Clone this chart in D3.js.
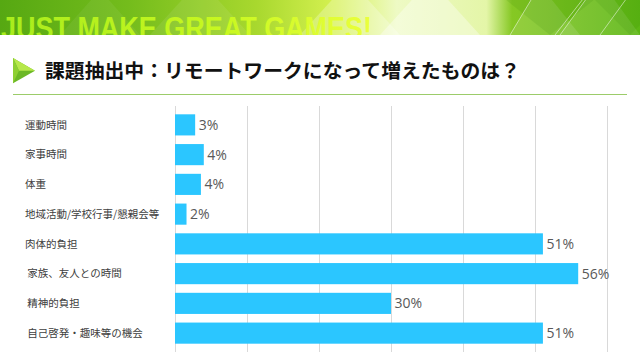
<!DOCTYPE html>
<html><head><meta charset="utf-8">
<script src="https://cdn.jsdelivr.net/npm/d3@7/dist/d3.min.js"></script>
<style>
html,body{margin:0;padding:0;background:#fff;}
svg{display:block;}
</style></head>
<body>
<script>
const bannerText = "JUST MAKE GREAT GAMES!";
const title = "課題抽出中：リモートワークになって増えたものは？";
const categories = ["運動時間","家事時間","体重","地域活動/学校行事/懇親会等","肉体的負担"," 家族、友人との時間"," 精神的負担"," 自己啓発・趣味等の機会"];
const values = [2.8, 4.0, 3.6, 1.6, 51.1, 56.0, 30.0, 51.1];
const xTicks = [0,10,20,30,40,50,60];

const W = 640, H = 360;
const svg = d3.select("body").append("svg").attr("width", W).attr("height", H);
const defs = svg.append("defs");

// banner gradient
const bg = defs.append("linearGradient").attr("id","bg").attr("x1","0").attr("x2","1").attr("y1","0").attr("y2","0");
[[0,"#56a812"],[0.2,"#74bc1c"],[0.4,"#a8d82e"],[0.52,"#d4f050"],[0.62,"#eefac4"],[0.76,"#e4f6a8"],[0.8,"#86c824"],[1,"#5cb614"]]
  .forEach(([o,c])=>bg.append("stop").attr("offset",o).attr("stop-color",c));
const tg = defs.append("linearGradient").attr("id","tg").attr("x1","0").attr("x2","1");
[[0,"#a8ec1c"],[0.6,"#c8f820"],[1,"#eaff3c"]].forEach(([o,c])=>tg.append("stop").attr("offset",o).attr("stop-color",c));
defs.append("clipPath").attr("id","bclip").append("rect").attr("width",W).attr("height",35);

const banner = svg.append("g").attr("clip-path","url(#bclip)");
banner.append("rect").attr("width",W).attr("height",35).attr("fill","url(#bg)");
// decorative triangles
const tri = [[ [60,35],[100,-10],[140,35],"rgba(255,255,255,0.06)"],[[150,35],[200,-20],[250,35],"rgba(255,255,255,0.08)"],
  [[380,35],[430,-20],[480,35],"rgba(255,255,255,0.35)"],[[300,35],[350,-20],[400,35],"rgba(255,255,255,0.25)"],
  [[510,35],[540,-15],[580,35],"rgba(255,255,255,0.12)"],[[560,35],[600,-20],[640,35],"rgba(255,255,255,0.1)"],
  [[500,-5],[550,35],[600,-5],"rgba(40,120,0,0.12)"],[[590,-5],[630,35],[670,-5],"rgba(40,120,0,0.1)"]];
tri.forEach(t=>banner.append("path").attr("d",`M${t[0]}L${t[1]}L${t[2]}Z`).attr("fill",t[3]));
[[510,35,540,-15],[560,35,600,-20],[555,35,590,-10],[600,35,640,-20]].forEach(l=>banner.append("line")
  .attr("x1",l[0]).attr("y1",l[1]).attr("x2",l[2]).attr("y2",l[3]).attr("stroke","rgba(255,255,255,0.5)").attr("stroke-width",1));
banner.append("text").attr("x",1).attr("y",39).attr("textLength",371).attr("lengthAdjust","spacingAndGlyphs")
  .attr("font-family","Liberation Sans, Arial, sans-serif").attr("font-weight","bold").attr("font-size",32)
  .attr("fill","url(#tg)").text(bannerText);

// title icon
svg.append("path").attr("d","M13,58L35,70.7L13,83.3Z").attr("fill","#6cb826");
svg.append("path").attr("d","M13,58L35,70.7L19,70.7Z").attr("fill","#b6e84a");
svg.append("path").attr("d","M13,58L19,70.7L13,83.3Z").attr("fill","#8ed032");
svg.append("text").attr("x",45).attr("y",77.5).attr("font-family","Noto Sans CJK JP, sans-serif").attr("font-weight","bold")
  .attr("font-size",19.5).attr("fill","#111").attr("textLength",475).attr("lengthAdjust","spacingAndGlyphs").text(title);
svg.append("line").attr("x1",13).attr("x2",627).attr("y1",94.5).attr("y2",94.5).attr("stroke","#9ccc6a").attr("stroke-width",1.2);

// chart
const x = d3.scaleLinear().domain([0,60]).range([175,607]);
const y = d3.scaleBand().domain(categories).range([110,348]).paddingInner(0.29).paddingOuter(0.145);

svg.append("g").selectAll("line").data(xTicks).join("line")
  .attr("x1",d=>x(d)+0.5).attr("x2",d=>x(d)+0.5).attr("y1",106).attr("y2",352)
  .attr("stroke","#d9d9d9").attr("stroke-width",1);

svg.append("g").selectAll("rect").data(values).join("rect")
  .attr("x",x(0)).attr("y",(d,i)=>y(categories[i])).attr("width",d=>x(d)-x(0)).attr("height",y.bandwidth())
  .attr("fill","#2bc6ff");

const fmt = d3.format(".0f");
svg.append("g").selectAll("text").data(values).join("text")
  .attr("x",d=>x(d)+3.5).attr("y",(d,i)=>y(categories[i])+y.bandwidth()/2).attr("dy","0.36em")
  .attr("font-family","Open Sans, Noto Sans, sans-serif").attr("font-size",14).attr("fill","#595959")
  .text(d=>fmt(d)+"%");

svg.append("g").selectAll("text").data(categories).join("text")
  .attr("x",25).attr("y",d=>y(d)+y.bandwidth()/2).attr("dy","0.36em").style("white-space","pre")
  .attr("font-family","Noto Sans CJK JP, sans-serif").attr("font-size",10.5).attr("fill","#404040")
  .text(d=>d);
</script>
</body></html>
